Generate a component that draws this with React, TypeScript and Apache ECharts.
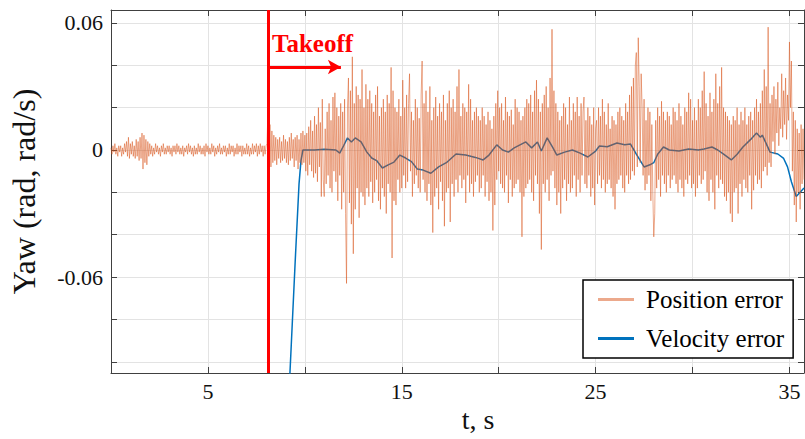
import React, { useEffect, useRef } from "react";
import * as echarts from "echarts";

// ---- data (values in milliradians) ----
const groundStart = 0;
const groundStep = 0.05;
const posErrGround = [
  1, -2, 2, -1, 3, -2, 1, -3, 2, -1, 2, -3, 1, -2, 3, -1, 4, -3, 6, -4,
  3, -2, 4, -3, 2, -4, 5, -3, 4, -5, 6, -4, 8, -9, 7, -6, 5, -7, 4, -3,
  3, -2, 2, -3, 1, -2, 3, -1, 2, -2, 1, -3, 2, -1, 3, -2, 1, -2, 2, -1,
  2, -2, 1, -3, 2, -1, 2, -2, 3, -1, 2, -2, 1, -2, 2, -3, 1, -1, 2, -2,
  3, -1, 2, -2, 1, -3, 2, -2, 1, -2, 3, -1, 2, -2, 1, -2, 2, -3, 3, -1,
  2, -2, 1, -2, 3, -1, 2, -3, 1, -2, 2, -1, 3, -2, 1, -2, 2, -1, 2, -3,
  1, -2, 3, -2, 2, -1, 2, -3, 1, -2, 3, -2, 2, -1, 2, -3, 2, -2, 1, -2,
  3, -2, 2, -3, 1, -2, 3, -2, 2, -1, 3, -3, 2, -2, 3, -1, 2, -3, 2, -2,
  2,
];

const flightStart = 8.05;
const flightStep = 0.05;
const posErrFlight = [
  3, 20, -13, 12, -8, 9, -6, 7, -5, 6, -7, 5, -4, 6, -6, 4, -5, 7, -4, 5,
  -6, 4, -7, 6, -5, 8, -4, 5, -8, 6, -5, 7, -9, 5, -6, 8, -7, 9, -6, 7,
  -10, 8, -12, 11, -7, 14, -10, 9, -13, 16, -11, 12, -15, 20, -8, 13, -22, 24, -14, -22,
  10, -16, 18, -12, 22, -18, 14, -20, 25, -10, 27, -15, 20, -24, 16, -12, 22, -28, 18, -20,
  24, -30, -63, 20, 34, -25, 28, -35, 44, -49, 22, -28, 30, -18, 26, -32, 24, -20, 38, -22,
  20, -26, 31, -18, 24, -22, 28, -15, 22, -25, 18, -20, 26, -14, 30, -24, 16, -28, 20, -18,
  24, -22, 18, -30, 26, -16, 22, -20, 39, -51, 28, -24, 20, -26, 18, -14, 24, -20, 16, -18,
  33, -12, 20, -18, 26, -15, 22, 36, -10, 18, -22, 14, -16, 24, -12, 20, -18, 15, -20, 26,
  42, -14, 22, -20, 28, -24, 18, -16, 30, -26, 14, -39, 20, -22, 25, -18, 16, -28, 22, -15,
  18, -24, 26, -36, 14, -20, 22, -18, 28, -34, 20, -16, 24, -22, 18, -14, 30, -20, 38, -12,
  16, -18, 22, -14, 20, -25, 18, -12, 31, -20, 24, -16, 14, -22, 18, -15, 20, -12, 16, -20,
  14, -18, 20, -12, 16, -22, 12, -15, 18, -24, 14, -20, 10, -38, 16, -26, 22, -14, 28, -10,
  20, -16, 22, -18, 14, -20, 25, -12, 18, -25, 16, -14, 19, -22, 12, -18, 24, -16, 20, -14,
  18, -20, 14, -41, 16, -22, 20, -18, 24, -16, 22, -14, 26, -20, 18, -24, 28, -12, 33, -16,
  24, -30, 18, -47, 22, -16, 26, -20, 30, -14, 20, -24, 34, -12, 57, -10, 28, -18, 22, -26,
  18, -20, 14, -30, 16, -18, 22, -14, 20, -24, 12, -16, 25, -20, 14, -18, 22, -12, 18, -22,
  25, -14, 16, -20, 22, -12, 18, 25, -16, 14, -18, 20, -12, 16, -22, 12, -18, 20, -26, 10,
  14, -16, 20, -12, 16, -18, 24, -14, 18, -20, 12, -16, 22, -14, 10, -18, 16, -22, 14, -28,
  12, -16, 18, -14, 20, -12, 16, -18, 14, -20, 22, -12, 18, -16, 26, -14, 30, -10, 34, -12,
  40, 46, -8, 53, 30, -6, 36, 20, -12, 24, -19, 14, -16, 20, -12, 18, -24, 12, -20, -41,
  -30, 14, -18, 20, -14, 16, -22, 23, -12, 18, -16, 14, -20, 18, -12, 16, -18, 12, -14, 20,
  -12, 18, -16, 14, -20, 22, -14, 16, -18, 12, -22, 20, -14, 18, -16, 27, -12, 24, -18, 14,
  -16, 20, -22, 14, -18, 24, -12, 20, -16, 28, -14, 37, -10, 22, -20, 16, -24, 27, -14, 18,
  -20, 24, -28, 36, -12, 22, -18, 30, -14, 39, -16, 20, -22, 18, -24, 16, -20, 14, -30, 12,
  -34, 16, -20, 14, -18, 20, -30, 12, -16, 18, -22, 14, -14, 20, -18, 12, -20, 16, -12, 18,
  -28, 14, -19, 20, -12, 24, -16, 18, -14, 22, -18, 28, -10, 38, -8, 30, -12, 58, -6, 22,
  -8, 26, 4, 30, -2, 24, 8, 32, 2, 20, 10, 36, 6, 28, 12, 34, 5, 26, 14, 51,
  20, 42, -10, 18, -26, 14, -34, 10, -20, 8, -28, 12, -16, 10, -14,
];

const velT = [
  9.0, 9.3, 9.5, 9.7, 9.8, 9.9, 10.5, 11.0, 11.6, 11.8, 12.0, 12.2, 12.4, 12.6, 12.9,
  13.2, 13.45, 13.7, 14.0, 14.3, 14.6, 14.9, 15.2, 15.5, 15.8, 16.1, 16.5, 16.9, 17.3,
  17.8, 18.3, 18.8, 19.2, 19.5, 19.9, 20.2, 20.5, 20.8, 21.4, 21.7, 22.0, 22.2, 22.5,
  22.8, 23.0, 23.4, 23.8, 24.2, 24.6, 25.0, 25.2, 25.6, 26.1, 26.5, 26.8, 27.1, 27.5,
  27.8, 28.0, 28.2, 28.5, 28.8, 29.3, 29.8, 30.3, 30.6, 31.0, 31.3, 31.6, 32.0, 32.3,
  32.6, 33.0, 33.3, 33.5, 33.6, 34.0, 34.4, 34.7, 34.9, 35.1, 35.35, 35.75,
];
const velErr = [
  -150, -92, -53, -16, -5, 0, 0, 0.3, 0, -1.5, 2, 5.7, 3.8, 5.7, 3.8,
  -1, -3.8, -5, -8.5, -7, -5.7, -2.4, -3.8, -5.5, -9, -9.5, -11, -8, -6,
  -1.9, -2.4, -3.5, -4.7, -2.4, 2.4, 0, -1, 1, 3.8, 1, 3.8, -0.5, 5.7,
  1, -2.4, -1, 0, -1.5, -3.3, -0.5, 1.9, 1.5, 3.3, 2.5, 2.8, -2, -8,
  -7, -6, -2, 1.4, 0, -0.5, 0.5, 0, 0.5, 1.4, 0, -2, -4.7, -2,
  1.4, 5, 8, 6, 7, -1, -1.9, -4, -8, -15, -22, -18,
];

const takeoffT = 8.1;
const arrowEndT = 11.86;
const arrowY = 0.0392;
const xTickLabels = [5, 15, 25, 35];
const yTickLabels = ["0.06", "0", "-0.06"];
const seriesNames = ["Position error", "Velocity error"];

const SERIF = "Liberation Serif";

export default function App() {
  const ref = useRef<HTMLDivElement>(null);

  useEffect(() => {
    if (!ref.current) return;
    const chart = echarts.init(ref.current, undefined, { renderer: "svg" });

    const posData: number[][] = [];
    posErrGround.forEach((v, i) => posData.push([+(groundStart + i * groundStep).toFixed(3), v / 1000]));
    posErrFlight.forEach((v, i) => posData.push([+(flightStart + i * flightStep).toFixed(3), v / 1000]));
    const velData = velT.map((t, i) => [t, velErr[i] / 1000]);

    const axisLineStyle = { color: "#404040", width: 1 };
    const gridLine = { show: true, lineStyle: { color: "#e3e3e3", width: 1 } };

    const yFormatter = (v: number) => {
      for (const s of yTickLabels) if (Math.abs(v - parseFloat(s)) < 1e-6) return s;
      return "";
    };
    const xFormatter = (v: number) => {
      for (const s of xTickLabels) if (Math.abs(v - s) < 1e-6) return String(s);
      return "";
    };

    chart.setOption({
      animation: false,
      backgroundColor: "#ffffff",
      grid: { left: 111, right: 1, top: 10, bottom: 66, containLabel: false, outerBoundsMode: "none" },
      xAxis: [
        {
          type: "value",
          min: 0,
          max: 35.75,
          interval: 5,
          position: "bottom",
          axisLine: { show: true, onZero: false, lineStyle: axisLineStyle },
          axisTick: { show: true, inside: true, length: 6, lineStyle: axisLineStyle },
          axisLabel: { formatter: xFormatter, fontFamily: SERIF, fontSize: 22, color: "#111", margin: 7 },
          splitLine: gridLine,
        },
        {
          type: "value",
          min: 0,
          max: 35.75,
          interval: 5,
          position: "top",
          axisLine: { show: true, onZero: false, lineStyle: axisLineStyle },
          axisTick: { show: true, inside: true, length: 6, lineStyle: axisLineStyle },
          axisLabel: { show: false },
          splitLine: { show: false },
        },
      ],
      yAxis: [
        {
          type: "value",
          min: -0.1053,
          max: 0.0661,
          splitNumber: 8,
          position: "left",
          name: "Yaw (rad, rad/s)",
          nameLocation: "middle",
          nameGap: 71,
          nameTextStyle: { fontFamily: SERIF, fontSize: 32, color: "#111" },
          axisLine: { show: true, onZero: false, lineStyle: axisLineStyle },
          axisTick: { show: true, inside: true, length: 6, lineStyle: axisLineStyle },
          axisLabel: { formatter: yFormatter, fontFamily: SERIF, fontSize: 22, color: "#111", margin: 8 },
          splitLine: gridLine,
        },
        {
          type: "value",
          min: -0.1053,
          max: 0.0661,
          splitNumber: 8,
          position: "right",
          axisLine: { show: true, onZero: false, lineStyle: axisLineStyle },
          axisTick: { show: true, inside: true, length: 6, lineStyle: axisLineStyle },
          axisLabel: { show: false },
          splitLine: { show: false },
        },
      ],
      legend: {
        data: seriesNames,
        orient: "vertical",
        left: 583,
        top: 280,
        backgroundColor: "#ffffff",
        borderColor: "#000000",
        borderWidth: 1.5,
        borderRadius: 0,
        padding: [7, 9, 7, 15],
        itemGap: 14,
        itemWidth: 36,
        itemHeight: 3,
        icon: "rect",
        textStyle: { fontFamily: SERIF, fontSize: 25, color: "#000", padding: [0, 0, 0, 7] },
      },
      series: [
        {
          name: seriesNames[1],
          type: "line",
          data: velData,
          showSymbol: false,
          symbol: "none",
          clip: true,
          lineStyle: { color: "#0072BD", width: 1.5 },
          itemStyle: { color: "#0072BD" },
          z: 2,
        },
        {
          name: seriesNames[0],
          type: "line",
          data: posData,
          showSymbol: false,
          symbol: "none",
          clip: true,
          lineStyle: { color: "rgba(217,83,25,0.5)", width: 1 },
          itemStyle: { color: "rgba(217,83,25,0.5)" },
          z: 3,
          markLine: {
            silent: true,
            animation: false,
            symbol: "none",
            label: { show: false },
            data: [
              { xAxis: takeoffT, lineStyle: { color: "#ff0000", width: 3, type: "solid" } },
              [
                { coord: [takeoffT, arrowY], symbol: "none", lineStyle: { color: "#ff0000", width: 3, type: "solid" } },
                { coord: [arrowEndT, arrowY], symbol: "arrow", symbolSize: [11, 13] },
              ],
            ],
            lineStyle: { color: "#ff0000", width: 3, type: "solid" },
            itemStyle: { color: "#ff0000" },
          },
        },
      ],
      graphic: [
        {
          type: "text",
          left: 272,
          top: 31,
          silent: true,
          style: { text: "Takeoff", fill: "#ff0000", font: `bold 25px ${SERIF}` },
          z: 100,
        },
        {
          type: "text",
          x: 478,
          y: 419,
          silent: true,
          style: { text: "t, s", fill: "#111", font: `28px ${SERIF}`, textAlign: "center", textVerticalAlign: "middle" },
        },
      ],
    });

    return () => chart.dispose();
  }, []);

  return (
    <div
      ref={ref}
      style={{ position: "fixed", left: 0, top: 0, width: 805, height: 439, background: "#fff" }}
    />
  );
}
